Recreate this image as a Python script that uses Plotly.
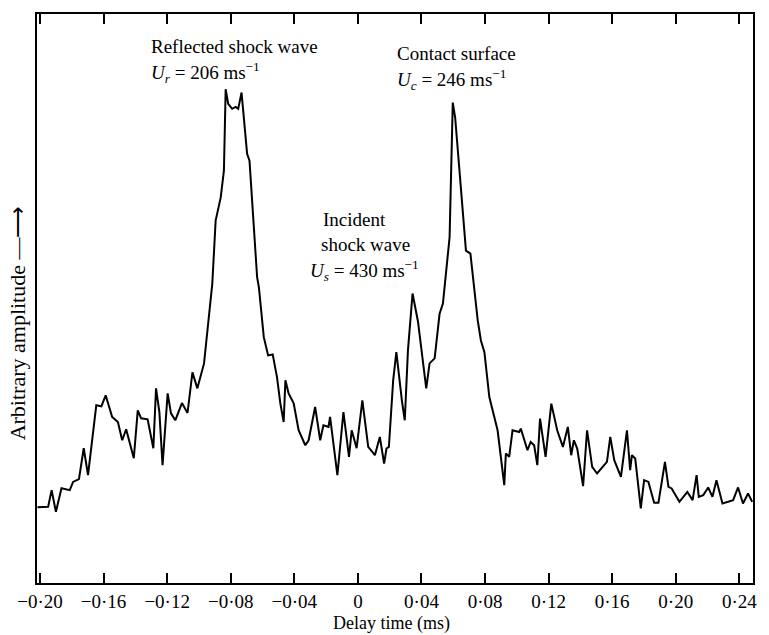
import plotly.graph_objects as go

# Delay time (ms) and arbitrary amplitude
delay_ms = [
    -0.2016, -0.1949, -0.1927, -0.1900, -0.1865, -0.1813, -0.1792, -0.1755, -0.1725, -0.1698,
    -0.1646, -0.1614, -0.1587, -0.1546, -0.1510, -0.1483, -0.1458, -0.1410, -0.1385, -0.1364,
    -0.1323, -0.1287, -0.1270, -0.1249, -0.1229, -0.1197, -0.1176, -0.1149, -0.1107, -0.1072,
    -0.1041, -0.1010, -0.0968, -0.0916, -0.0895, -0.0863, -0.0843, -0.0832, -0.0816, -0.0791,
    -0.0769, -0.0753, -0.0732, -0.0707, -0.0697, -0.0682, -0.0661, -0.0634, -0.0623, -0.0592,
    -0.0565, -0.0536, -0.0509, -0.0488, -0.0467, -0.0456, -0.0436, -0.0404, -0.0373, -0.0331,
    -0.0310, -0.0269, -0.0237, -0.0217, -0.0185, -0.0175, -0.0129, -0.0091, -0.0056, -0.0039,
    -0.0008, 0.0028, 0.0065, 0.0107, 0.0138, 0.0165, 0.0180, 0.0195, 0.0222, 0.0242,
    0.0278, 0.0295, 0.0315, 0.0344, 0.0378, 0.0430, 0.0451, 0.0483, 0.0514, 0.0535,
    0.0577, 0.0597, 0.0612, 0.0649, 0.0680, 0.0708, 0.0754, 0.0774, 0.0796, 0.0827,
    0.0879, 0.0921, 0.0931, 0.0952, 0.0973, 0.1015, 0.1025, 0.1067, 0.1087, 0.1109,
    0.1129, 0.1146, 0.1181, 0.1217, 0.1254, 0.1290, 0.1321, 0.1342, 0.1359, 0.1380,
    0.1417, 0.1442, 0.1474, 0.1505, 0.1567, 0.1588, 0.1613, 0.1655, 0.1693, 0.1713,
    0.1724, 0.1745, 0.1780, 0.1801, 0.1828, 0.1864, 0.1891, 0.1932, 0.1954, 0.1974,
    0.2023, 0.2073, 0.2106, 0.2131, 0.2145, 0.2173, 0.2204, 0.2231, 0.2256, 0.2294,
    0.2361, 0.2392, 0.2423, 0.2455, 0.2481,
]
amplitude = [
    76, 76.3, 93, 71.3, 95, 93, 101.3, 104, 135, 108,
    178, 177, 188, 166.3, 161.3, 143, 154, 125, 173, 165,
    164, 135, 195, 171.3, 118, 190, 170, 163, 180.3, 170.3,
    211, 195, 220, 300, 363, 386.3, 413, 494.7, 480, 475,
    477, 475, 491.3, 446.3, 430, 423, 373, 306.3, 296.3, 246.3,
    228, 229, 206.3, 180, 161.3, 203, 190, 180, 153, 138,
    143, 176.3, 143, 158, 156.3, 166.3, 108, 171.3, 126.3, 153,
    135, 183, 136.3, 128, 146.3, 119.7, 134.7, 136.3, 203, 231.3,
    181.3, 163, 233, 290, 262, 195, 220, 225, 269.7, 280,
    346.3, 481.3, 466.3, 396.3, 333, 330, 263, 243, 231.3, 186.3,
    153, 98, 129.7, 126.3, 153, 151.3, 154.7, 133, 141.3, 138,
    118, 164.7, 126.3, 179.7, 153, 136.3, 156.3, 128, 143, 134.7,
    97, 153, 116.3, 109.7, 121.3, 146.3, 123, 106.3, 153, 113,
    128, 124.7, 74.7, 103, 101.3, 80.3, 80.3, 121.3, 96.3, 94.7,
    81.3, 91.3, 83, 108, 86.3, 88, 95.7, 86.3, 103, 79.7,
    83, 95.7, 79.7, 89.7, 81.3,
]

tick_vals = [-0.20, -0.16, -0.12, -0.08, -0.04, 0, 0.04, 0.08, 0.12, 0.16, 0.20, 0.24]
tick_text = ["−0·20", "−0·16", "−0·12", "−0·08", "−0·04", "0",
             "0·04", "0·08", "0·12", "0·16", "0·20", "0·24"]

FONT = "Liberation Serif, Times New Roman, serif"

fig = go.Figure()
fig.add_trace(go.Scatter(
    x=delay_ms, y=amplitude, mode="lines",
    line=dict(color="black", width=2),
    hoverinfo="skip", showlegend=False,
))

ann_font = dict(family=FONT, size=19, color="black")
labels = [
    (-0.1312, 537, "Reflected shock wave"),
    (-0.1312, 511, "<i>U</i><sub><i>r</i></sub> = 206 ms<sup>−1</sup>"),
    (0.0234, 530, "Contact surface"),
    (0.0234, 504, "<i>U</i><sub><i>c</i></sub> = 246 ms<sup>−1</sup>"),
    (-0.0229, 364, "Incident"),
    (-0.0242, 339, "shock wave"),
    (-0.0311, 313, "<i>U</i><sub><i>s</i></sub> = 430 ms<sup>−1</sup>"),
]
annotations = [
    dict(x=x, y=y, xref="x", yref="y", text=t, showarrow=False,
         xanchor="left", yanchor="middle", font=ann_font)
    for x, y, t in labels
]
annotations.append(dict(
    x=0.495, y=-0.072, xref="paper", yref="paper", text="Delay time (ms)",
    showarrow=False, xanchor="center", yanchor="middle",
    font=dict(family=FONT, size=18, color="black")))
annotations.append(dict(
    x=-0.028, y=0.458, xref="paper", yref="paper", text="Arbitrary amplitude —⟶",
    showarrow=False, textangle=-90, xanchor="center", yanchor="middle",
    font=dict(family=FONT, size=22, color="black")))

fig.update_layout(
    width=769, height=635,
    margin=dict(l=37, r=13, t=13, b=52),
    paper_bgcolor="white", plot_bgcolor="white",
    font=dict(family=FONT, size=19, color="black"),
    annotations=annotations,
    xaxis=dict(
        range=[-0.2019, 0.2486], tickvals=tick_vals, ticktext=tick_text,
        ticks="inside", ticklen=10, tickwidth=2, tickcolor="black",
        showline=True, linewidth=2, linecolor="black", mirror="allticks",
        showgrid=False, zeroline=False,
        tickfont=dict(family=FONT, size=19, color="black"),
    ),
    yaxis=dict(
        range=[0, 570], showticklabels=False, ticks="",
        showline=True, linewidth=2, linecolor="black", mirror=True,
        showgrid=False, zeroline=False,
    ),
)

fig.write_html("out.html")
